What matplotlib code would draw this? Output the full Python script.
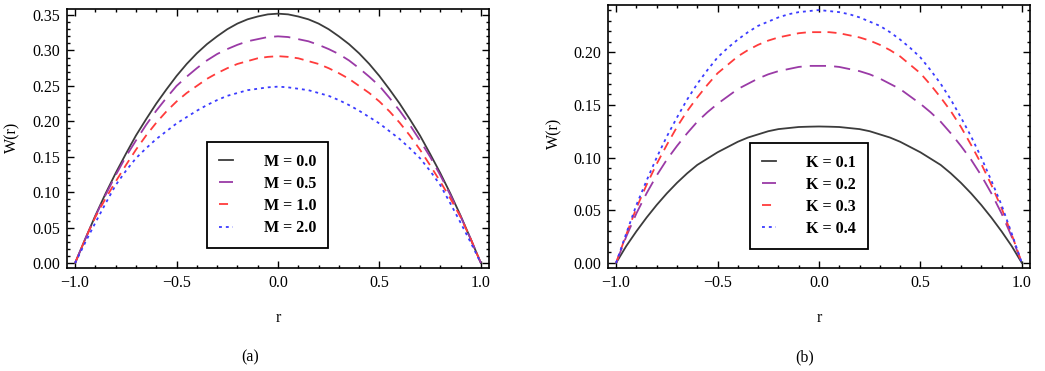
import matplotlib
matplotlib.use("Agg")
import matplotlib.pyplot as plt
from matplotlib.ticker import MultipleLocator, FuncFormatter

plt.rcParams['font.family'] = ['Liberation Serif', 'DejaVu Serif']

# radial positions, step 0.05
r = [-1.0, -0.95, -0.9, -0.85, -0.8, -0.75, -0.7, -0.65, -0.6, -0.55, -0.5,
     -0.45, -0.4, -0.35, -0.3, -0.25, -0.2, -0.15, -0.1, -0.05, 0.0,
     0.05, 0.1, 0.15, 0.2, 0.25, 0.3, 0.35, 0.4, 0.45, 0.5,
     0.55, 0.6, 0.65, 0.7, 0.75, 0.8, 0.85, 0.9, 0.95, 1.0]

# panel (a): effect of M
w_m00 = [0.0, 0.034, 0.067, 0.098, 0.127, 0.154, 0.180, 0.203, 0.225, 0.245, 0.264,
         0.281, 0.296, 0.309, 0.320, 0.330, 0.338, 0.344, 0.348, 0.351, 0.352,
         0.351, 0.348, 0.344, 0.338, 0.330, 0.320, 0.309, 0.296, 0.281, 0.264,
         0.245, 0.225, 0.203, 0.180, 0.154, 0.127, 0.098, 0.067, 0.034, 0.0]
w_m05 = [0.0, 0.034, 0.066, 0.096, 0.124, 0.150, 0.173, 0.195, 0.215, 0.233, 0.250,
         0.263, 0.275, 0.286, 0.295, 0.302, 0.308, 0.313, 0.316, 0.319, 0.320,
         0.319, 0.316, 0.313, 0.308, 0.302, 0.295, 0.286, 0.275, 0.263, 0.250,
         0.233, 0.215, 0.195, 0.173, 0.150, 0.124, 0.096, 0.066, 0.034, 0.0]
w_m10 = [0.0, 0.034, 0.065, 0.091, 0.115, 0.138, 0.160, 0.180, 0.198, 0.214, 0.228,
         0.240, 0.250, 0.260, 0.268, 0.275, 0.281, 0.285, 0.289, 0.291, 0.292,
         0.291, 0.289, 0.285, 0.281, 0.275, 0.268, 0.260, 0.250, 0.240, 0.228,
         0.214, 0.198, 0.180, 0.160, 0.138, 0.115, 0.091, 0.065, 0.034, 0.0]
w_m20 = [0.0, 0.029, 0.057, 0.084, 0.110, 0.130, 0.148, 0.162, 0.175, 0.186, 0.197,
         0.206, 0.215, 0.223, 0.230, 0.236, 0.240, 0.244, 0.246, 0.248, 0.249,
         0.248, 0.246, 0.244, 0.240, 0.236, 0.230, 0.223, 0.215, 0.206, 0.197,
         0.186, 0.175, 0.162, 0.148, 0.130, 0.110, 0.084, 0.057, 0.029, 0.0]
labels_m = ["M = 0.0", "M = 0.5", "M = 1.0", "M = 2.0"]

# panel (b): effect of K
w_k01 = [0.0, 0.016, 0.030, 0.043, 0.055, 0.066, 0.076, 0.085, 0.093, 0.099, 0.105,
         0.110, 0.115, 0.119, 0.122, 0.125, 0.127, 0.128, 0.129, 0.1293, 0.1295,
         0.1293, 0.129, 0.128, 0.127, 0.125, 0.122, 0.119, 0.115, 0.110, 0.105,
         0.099, 0.093, 0.085, 0.076, 0.066, 0.055, 0.043, 0.030, 0.016, 0.0]
w_k02 = [0.0, 0.025, 0.047, 0.066, 0.083, 0.098, 0.111, 0.123, 0.134, 0.143, 0.151,
         0.158, 0.165, 0.170, 0.175, 0.179, 0.182, 0.184, 0.186, 0.187, 0.187,
         0.187, 0.186, 0.184, 0.182, 0.179, 0.175, 0.170, 0.165, 0.158, 0.151,
         0.143, 0.134, 0.123, 0.111, 0.098, 0.083, 0.066, 0.047, 0.025, 0.0]
w_k03 = [0.0, 0.027, 0.052, 0.074, 0.094, 0.112, 0.129, 0.144, 0.157, 0.169, 0.180,
         0.188, 0.196, 0.202, 0.207, 0.211, 0.214, 0.216, 0.218, 0.219, 0.219,
         0.219, 0.218, 0.216, 0.214, 0.211, 0.207, 0.202, 0.196, 0.188, 0.180,
         0.169, 0.157, 0.144, 0.129, 0.112, 0.094, 0.074, 0.052, 0.027, 0.0]
w_k04 = [0.0, 0.028, 0.055, 0.078, 0.100, 0.120, 0.138, 0.155, 0.170, 0.183, 0.195,
         0.204, 0.212, 0.219, 0.225, 0.229, 0.233, 0.236, 0.238, 0.239, 0.240,
         0.239, 0.238, 0.236, 0.233, 0.229, 0.225, 0.219, 0.212, 0.204, 0.195,
         0.183, 0.170, 0.155, 0.138, 0.120, 0.100, 0.078, 0.055, 0.028, 0.0]
labels_k = ["K = 0.1", "K = 0.2", "K = 0.3", "K = 0.4"]

colors = ["#3c3c3c", "#9a3aa6", "#ff3b3b", "#3b3bff"]
dashes = [None, (9, 4.5), (5, 3.5), (1.6, 2.2)]

fig = plt.figure(figsize=(10.45, 3.71), dpi=100)
ax_a = fig.add_axes([0.0641, 0.2776, 0.4038, 0.698])
ax_b = fig.add_axes([0.5818, 0.2776, 0.4038, 0.709])


def fmt(decimals):
    return FuncFormatter(lambda v, pos: ("%.*f" % (decimals, v)).replace("-", "\u2212"))


def draw(ax, series, labels, ylim, legend_anchor):
    for w, c, d, lab in zip(series, colors, dashes, labels):
        line, = ax.plot(r, w, color=c, lw=1.3, label=lab)
        if d is not None:
            line.set_dashes(d)
    ax.set_xlim(-1.04, 1.04)
    ax.set_ylim(*ylim)
    ax.xaxis.set_major_locator(MultipleLocator(0.5))
    ax.xaxis.set_minor_locator(MultipleLocator(0.1))
    ax.yaxis.set_major_locator(MultipleLocator(0.05))
    ax.yaxis.set_minor_locator(MultipleLocator(0.01))
    ax.xaxis.set_major_formatter(fmt(1))
    ax.yaxis.set_major_formatter(fmt(2))
    ax.tick_params(which='both', direction='in', top=True, right=True,
                   labelsize=11.5, width=1.0)
    ax.tick_params(which='major', length=5, pad=5)
    ax.tick_params(which='minor', length=2.5)
    for s in ax.spines.values():
        s.set_linewidth(1.2)
    ax.set_xlabel("r", fontsize=11.5, labelpad=14)
    leg = ax.legend(loc='lower left', bbox_to_anchor=legend_anchor,
                    prop={'size': 11.5, 'weight': 'bold'},
                    handlelength=0.9, handletextpad=1.9, labelspacing=0.38,
                    borderpad=0.75, borderaxespad=0, fancybox=False,
                    edgecolor='black', framealpha=1.0)
    leg.get_frame().set_linewidth(1.3)


draw(ax_a, [w_m00, w_m05, w_m10, w_m20], labels_m, (-0.007, 0.3585), (0.332, 0.077))
draw(ax_b, [w_k01, w_k02, w_k03, w_k04], labels_k, (-0.0048, 0.2448), (0.336, 0.073))

fig.text(12 / 1045, 1 - 137 / 371, "W(r)", rotation=90, ha='center', va='center', fontsize=11.5)
fig.text(554 / 1045, 1 - 133 / 371, "W(r)", rotation=90, ha='center', va='center', fontsize=11.5)
fig.text(250 / 1045, 1 - 357 / 371, "(a)", ha='center', va='center', fontsize=11.5)
fig.text(805 / 1045, 1 - 357 / 371, "(b)", ha='center', va='center', fontsize=11.5)

fig.savefig("out.png", dpi=100)
